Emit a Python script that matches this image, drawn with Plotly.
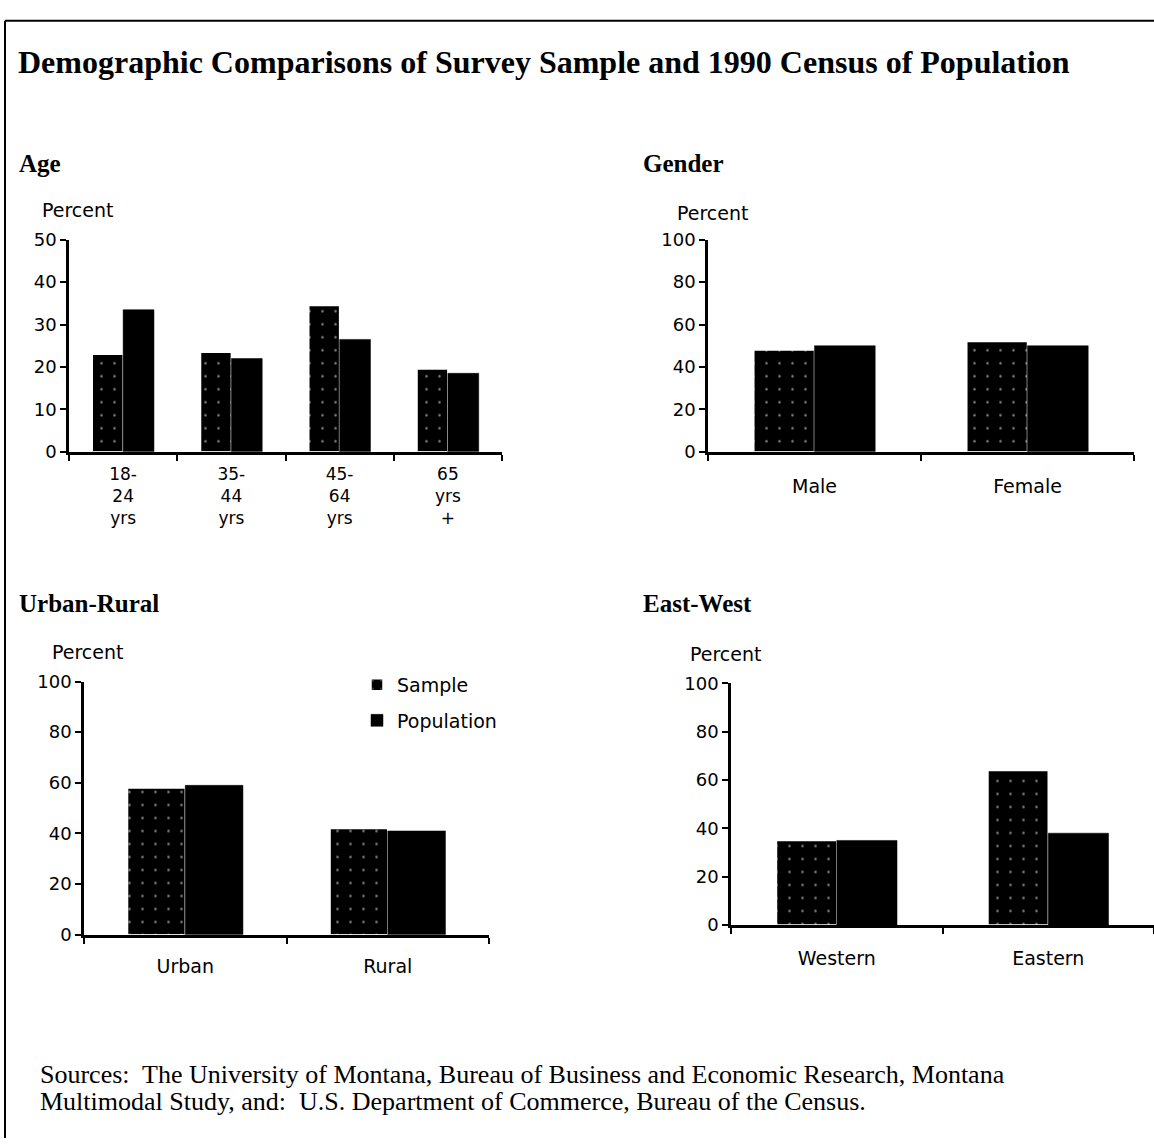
import plotly.graph_objects as go

W, H = 1154, 1148

# ---------------- data ----------------
age_cats = ["18-<br>24<br>yrs", "35-<br>44<br>yrs", "45-<br>64<br>yrs", "65<br>yrs<br>+"]
age_sample = [23, 23.5, 34.5, 19.5]
age_population = [33.5, 22, 26.5, 18.5]

gender_cats = ["Male", "Female"]
gender_sample = [48, 52]
gender_population = [50, 50]

urban_cats = ["Urban", "Rural"]
urban_sample = [58, 42]
urban_population = [59, 41]

ew_cats = ["Western", "Eastern"]
ew_sample = [35, 64]
ew_population = [35, 38]

series_names = ["Sample", "Population"]

# ---------------- helpers ----------------
def px(x):
    return x / W

def py(y):
    return 1 - y / H

SANS = "DejaVu Sans, Verdana, sans-serif"
SERIF = "Liberation Serif, Times New Roman, serif"

fig = go.Figure()

panels = [
    # cats, sample, pop, xaxis id, yaxis id, x domain px, y domain px (top, bottom), yrange, dtick, standoff
    (age_cats, age_sample, age_population, "x", "y", (69, 502), (233, 449), 50, 10, 5),
    (gender_cats, gender_sample, gender_population, "x2", "y2", (708, 1134), (233, 449), 100, 20, 16),
    (urban_cats, urban_sample, urban_population, "x3", "y3", (84, 489), (683, 941), 100, 20, 13),
    (ew_cats, ew_sample, ew_population, "x4", "y4", (731, 1154), (685, 931), 100, 20, 14),
]

for i, (cats, samp, pop, xa, ya, xd, yd, ymax, dt, so) in enumerate(panels):
    show = (i == 2)
    fig.add_trace(go.Bar(
        x=cats, y=samp, name=series_names[0], xaxis=xa, yaxis=ya,
        marker=dict(color="black",
                    line=dict(color="white", width=1.5),
                    pattern=dict(shape=".", fgcolor="white", bgcolor="black",
                                 size=13, solidity=0.03, fillmode="overlay")),
        showlegend=show, legendgroup="s",
    ))
    fig.add_trace(go.Bar(
        x=cats, y=pop, name=series_names[1], xaxis=xa, yaxis=ya,
        marker=dict(color="black", line=dict(color="black", width=0.5)),
        showlegend=show, legendgroup="p",
    ))
    n = "" if i == 0 else str(i + 1)
    fig.layout["xaxis" + n] = dict(
        domain=[px(xd[0]), px(xd[1])], anchor=ya, type="category",
        showline=True, linecolor="black", linewidth=2.5,
        ticks="outside", tickson="boundaries", ticklen=6, tickwidth=2, tickcolor="black",
        showgrid=False, zeroline=False, fixedrange=True,
        tickfont=dict(family=SANS, size=19 if i else 17, color="black"),
        ticklabelstandoff=so,
    )
    fig.layout["yaxis" + n] = dict(
        domain=[py(yd[1]), py(yd[0])], anchor=xa, range=[0, ymax], dtick=dt,
        showline=True, linecolor="black", linewidth=2.5,
        ticks="outside", ticklen=6, tickwidth=2, tickcolor="black",
        showgrid=False, zeroline=False, fixedrange=True,
        tickfont=dict(family=SANS, size=18, color="black"),
    )

ann = []
ann.append(dict(text="<b>Demographic Comparisons of Survey Sample and 1990 Census of Population</b>",
                x=px(16), y=py(52), xanchor="left", yanchor="middle",
                font=dict(family=SERIF, size=32, color="black")))
for t, x, y in [("Age", 17, 155), ("Gender", 641, 155), ("Urban-Rural", 17, 604), ("East-West", 641, 604)]:
    ann.append(dict(text="<b>" + t + "</b>", x=px(x), y=py(y), xanchor="left", yanchor="middle",
                    font=dict(family=SERIF, size=25, color="black")))
for x, y in [(40, 203), (675, 206), (50, 653), (688, 655)]:
    ann.append(dict(text="Percent", x=px(x), y=py(y), xanchor="left", yanchor="middle",
                    font=dict(family=SANS, size=19, color="black")))
ann.append(dict(text="Sources:  The University of Montana, Bureau of Business and Economic Research, Montana",
                x=px(38), y=py(1083), xanchor="left", yanchor="middle",
                font=dict(family=SERIF, size=26, color="black")))
ann.append(dict(text="Multimodal Study, and:  U.S. Department of Commerce, Bureau of the Census.",
                x=px(38), y=py(1111), xanchor="left", yanchor="middle",
                font=dict(family=SERIF, size=26, color="black")))
for a in ann:
    a.update(xref="paper", yref="paper", showarrow=False)

shapes = [
    dict(type="line", xref="paper", yref="paper", x0=px(5), x1=1, y0=py(10), y1=py(10),
         line=dict(color="black", width=2)),
    dict(type="line", xref="paper", yref="paper", x0=px(5), x1=px(5), y0=py(10), y1=0,
         line=dict(color="black", width=2)),
]

fig.update_layout(
    width=W, height=H, margin=dict(l=0, r=0, t=0, b=0),
    paper_bgcolor="white", plot_bgcolor="white",
    barmode="group", bargap=0.43, bargroupgap=0,
    annotations=ann, shapes=shapes,
    legend=dict(x=px(357), y=py(667), xanchor="left", yanchor="top",
                bgcolor="rgba(0,0,0,0)", tracegroupgap=8, traceorder="grouped",
                font=dict(family=SANS, size=19, color="black"), itemwidth=30),
)

fig.write_html("out.html", config={"displayModeBar": False},
               post_script="document.body.style.margin='0';document.body.style.overflow='hidden';")
